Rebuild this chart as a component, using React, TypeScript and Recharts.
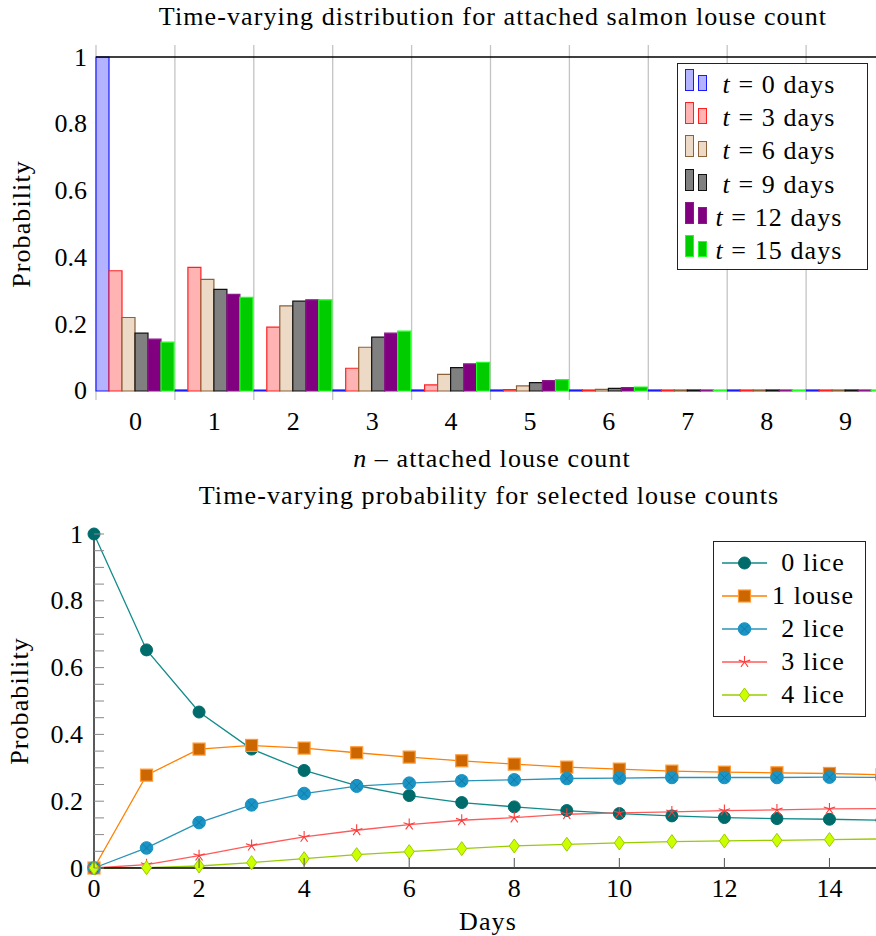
import React from "react";
import { BarChart, Bar, LineChart, Line, XAxis, YAxis, CartesianGrid, ReferenceLine } from "recharts";

const FONT = '"Liberation Serif", "Times New Roman", serif';
const FS = 26;
const LS = 1.1;

// top chart: distribution of attached louse count
const counts = ["0", "1", "2", "3", "4", "5", "6", "7", "8", "9"];
const t0 = [1, 0, 0, 0, 0, 0, 0, 0, 0, 0];
const t3 = [0.36, 0.37, 0.191, 0.068, 0.018, 0.004, 0.001, 0.0002, 0, 0];
const t6 = [0.22, 0.334, 0.255, 0.131, 0.05, 0.015, 0.005, 0.001, 0.0002, 0];
const t9 = [0.173, 0.304, 0.269, 0.161, 0.07, 0.025, 0.008, 0.002, 0.0005, 0.0001];
const t12 = [0.155, 0.289, 0.273, 0.173, 0.081, 0.031, 0.01, 0.003, 0.0008, 0.0002];
const t15 = [0.146, 0.28, 0.273, 0.179, 0.086, 0.034, 0.012, 0.003, 0.001, 0.0003];
const probTicks = [0, 0.2, 0.4, 0.6, 0.8, 1];

// bottom chart: probability over time for 0..4 lice
const days = [0, 1, 2, 3, 4, 5, 6, 7, 8, 9, 10, 11, 12, 13, 14, 15];
const lice0 = [1, 0.653, 0.467, 0.356, 0.292, 0.247, 0.217, 0.196, 0.183, 0.172, 0.163, 0.156, 0.151, 0.148, 0.146, 0.143];
const louse1 = [0, 0.278, 0.356, 0.367, 0.359, 0.345, 0.332, 0.321, 0.311, 0.302, 0.296, 0.29, 0.287, 0.285, 0.283, 0.279];
const lice2 = [0, 0.06, 0.136, 0.189, 0.223, 0.245, 0.254, 0.261, 0.264, 0.268, 0.269, 0.271, 0.271, 0.271, 0.272, 0.271];
const lice3 = [0, 0.01, 0.037, 0.067, 0.093, 0.113, 0.13, 0.143, 0.151, 0.161, 0.165, 0.168, 0.172, 0.174, 0.177, 0.178];
const lice4 = [0, 0.001, 0.006, 0.016, 0.028, 0.04, 0.049, 0.058, 0.066, 0.071, 0.075, 0.079, 0.081, 0.083, 0.085, 0.087];
const dayTicks = [0, 2, 4, 6, 8, 10, 12, 14];
const probMinor = [0, 0.05, 0.1, 0.15, 0.2, 0.25, 0.3, 0.35, 0.4, 0.45, 0.5, 0.55, 0.6, 0.65, 0.7, 0.75, 0.8, 0.85, 0.9, 0.95, 1];

const barData = counts.map((n, i) => ({ n, t0: t0[i], t3: t3[i], t6: t6[i], t9: t9[i], t12: t12[i], t15: t15[i] }));
const lineData = days.map((day, i) => ({ day, l0: lice0[i], l1: louse1[i], l2: lice2[i], l3: lice3[i], l4: lice4[i] }));

const barSeries = [
  { key: "t0", label: "0", fill: "#b3b3ff", stroke: "#1a1aff" },
  { key: "t3", label: "3", fill: "#ffb3b3", stroke: "#ff2020" },
  { key: "t6", label: "6", fill: "#ecd9c6", stroke: "#8c6239" },
  { key: "t9", label: "9", fill: "#808080", stroke: "#111" },
  { key: "t12", label: "12", fill: "#800080", stroke: "#8a1a8a" },
  { key: "t15", label: "15", fill: "#00cc00", stroke: "#22ff22" },
];

type Mark = "circle" | "square" | "otimes" | "star" | "diamond";
const lineSeries: { key: string; label: string; line: string; fill: string; stroke: string; mark: Mark }[] = [
  { key: "l0", label: "0 lice", line: "#138a8a", fill: "#006b6b", stroke: "#006b6b", mark: "circle" },
  { key: "l1", label: "1 louse", line: "#ff8000", fill: "#cc6600", stroke: "#ff9a33", mark: "square" },
  { key: "l2", label: "2 lice", line: "#2b93b8", fill: "#1a94c4", stroke: "#1a94c4", mark: "otimes" },
  { key: "l3", label: "3 lice", line: "#ff5a5a", fill: "#ff3b3b", stroke: "#ff3b3b", mark: "star" },
  { key: "l4", label: "4 lice", line: "#99cc00", fill: "#ccff00", stroke: "#99cc00", mark: "diamond" },
];

function Marker({ cx, cy, s }: { cx: number; cy: number; s: (typeof lineSeries)[number] }) {
  if (s.mark === "circle") return <circle cx={cx} cy={cy} r={6} fill={s.fill} stroke={s.stroke} />;
  if (s.mark === "square")
    return <rect x={cx - 6} y={cy - 6} width={12} height={12} fill={s.fill} stroke={s.stroke} strokeWidth={1.2} />;
  if (s.mark === "otimes")
    return (
      <g>
        <circle cx={cx} cy={cy} r={6.3} fill={s.fill} stroke={s.stroke} />
        <path d={`M${cx - 4} ${cy - 4}L${cx + 4} ${cy + 4}M${cx - 4} ${cy + 4}L${cx + 4} ${cy - 4}`} stroke="#1479a3" strokeWidth={1} />
      </g>
    );
  if (s.mark === "star") {
    let d = "";
    for (let k = 0; k < 5; k++) {
      const a = -Math.PI / 2 + (k * 2 * Math.PI) / 5;
      d += `M${cx} ${cy}L${cx + 6 * Math.cos(a)} ${cy + 6 * Math.sin(a)}`;
    }
    return <path d={d} stroke={s.stroke} strokeWidth={1.1} fill="none" />;
  }
  return (
    <path d={`M${cx} ${cy - 7}L${cx + 5} ${cy}L${cx} ${cy + 7}L${cx - 5} ${cy}Z`} fill={s.fill} stroke={s.stroke} strokeWidth={1} />
  );
}

function Label({ x, y, rotate, children }: { x: number; y: number; rotate?: boolean; children: React.ReactNode }) {
  return (
    <div
      style={{
        position: "absolute",
        left: x,
        top: y,
        transform: `translate(-50%, -50%)${rotate ? " rotate(-90deg)" : ""}`,
        whiteSpace: "nowrap",
        fontFamily: FONT,
        fontSize: FS,
        letterSpacing: LS,
        lineHeight: 1,
        color: "#000",
      }}
    >
      {children}
    </div>
  );
}

const tickText = { fontFamily: FONT, fontSize: FS, fill: "#000" };
const isMajor = (v: number) => Math.abs(v * 5 - Math.round(v * 5)) < 1e-6;

export default function App() {
  return (
    <div style={{ position: "absolute", left: 0, top: 0, width: 876, height: 936, overflow: "hidden", background: "#fff" }}>
      {/* Top: bar chart */}
      <div style={{ position: "absolute", left: 0, top: 0 }}>
        <BarChart width={900} height={470} data={barData} margin={{ top: 45, right: 0, bottom: 0, left: 0 }} barCategoryGap={0} barGap={0}>
          <CartesianGrid
            horizontal={false}
            stroke="#c4c4c4"
            strokeWidth={1.3}
            verticalCoordinatesGenerator={({ offset }: any) =>
              Array.from({ length: counts.length + 1 }, (_, i) => offset.left + (i * offset.width) / counts.length)
            }
          />
          <XAxis
            dataKey="n"
            height={70}
            axisLine={false}
            tickLine={false}
            tickSize={0}
            tickMargin={0}
            interval={0}
            tick={({ x, y, payload }: any) => (
              <text x={x} y={y + 21} textAnchor="middle" dominantBaseline="central" {...tickText}>
                {payload.value}
              </text>
            )}
          />
          <YAxis
            width={96}
            domain={[-0.027, 1.036]}
            ticks={probTicks}
            axisLine={false}
            tickLine={false}
            tickSize={0}
            tickMargin={0}
            tick={({ x, y, payload }: any) => (
              <text x={x - 9} y={y} textAnchor="end" dominantBaseline="central" {...tickText}>
                {payload.value}
              </text>
            )}
          />
          <YAxis
            yAxisId="r"
            orientation="right"
            width={15}
            domain={[-0.027, 1.036]}
            ticks={probTicks}
            axisLine={false}
            tickLine={false}
            tickSize={0}
            tickMargin={0}
            tick={({ x, y }: any) => <line x1={x - 11} x2={x} y1={y} y2={y} stroke="#888" strokeWidth={1} />}
          />
          <ReferenceLine y={1} stroke="#000" strokeWidth={1.3} />
          {barSeries.map((s) => (
            <Bar
              key={s.key}
              dataKey={s.key}
              fill={s.fill}
              stroke={s.stroke}
              strokeWidth={1.2}
              minPointSize={1}
              isAnimationActive={false}
            />
          ))}
        </BarChart>
      </div>

      <Label x={493} y={17}>Time-varying distribution for attached salmon louse count</Label>
      <Label x={22} y={224} rotate>Probability</Label>
      <Label x={492} y={459}>
        <i>n</i> – attached louse count
      </Label>

      <div
        style={{
          position: "absolute",
          left: 677,
          top: 63,
          width: 191,
          height: 207,
          border: "1.3px solid #222",
          boxSizing: "border-box",
          background: "#fff",
        }}
      >
        {barSeries.map((s, i) => (
          <React.Fragment key={s.key}>
            <div
              style={{ position: "absolute", left: 7, top: 5 + i * 33.2, width: 9, height: 22, background: s.fill, border: `1px solid ${s.stroke}`, boxSizing: "border-box" }}
            />
            <div
              style={{ position: "absolute", left: 20, top: 10.5 + i * 33.2, width: 9, height: 16.5, background: s.fill, border: `1px solid ${s.stroke}`, boxSizing: "border-box" }}
            />
            <Label x={101} y={21 + i * 33.2}>
              <i>t</i> = {s.label} days
            </Label>
          </React.Fragment>
        ))}
      </div>

      {/* Bottom: line chart */}
      <div style={{ position: "absolute", left: 0, top: 470 }}>
        <LineChart width={900} height={466} data={lineData} margin={{ top: 64, right: 0, bottom: 0, left: 0 }}>
          <XAxis
            dataKey="day"
            type="number"
            domain={[0, 15]}
            ticks={dayTicks}
            height={68}
            axisLine={{ stroke: "#000", strokeWidth: 1.3 }}
            tickLine={false}
            tickSize={0}
            tickMargin={0}
            tick={({ x, y, payload }: any) => (
              <g>
                <line x1={x} x2={x} y1={y} y2={y - 10} stroke="#555" strokeWidth={1} />
                <text x={x} y={y + 20} textAnchor="middle" dominantBaseline="central" {...tickText}>
                  {payload.value}
                </text>
              </g>
            )}
          />
          <XAxis
            xAxisId="top"
            orientation="top"
            dataKey="day"
            type="number"
            domain={[0, 15]}
            ticks={dayTicks}
            height={0}
            axisLine={{ stroke: "#000", strokeWidth: 1.3 }}
            tickLine={false}
            tickSize={0}
            tickMargin={0}
            tick={({ x, y }: any) => <line x1={x} x2={x} y1={y} y2={y + 11} stroke="#555" strokeWidth={1} />}
          />
          <YAxis
            width={94}
            domain={[0, 1]}
            ticks={probMinor}
            interval={0}
            axisLine={{ stroke: "#000", strokeWidth: 1.3 }}
            tickLine={false}
            tickSize={0}
            tickMargin={0}
            tick={({ x, y, payload }: any) => (
              <g>
                <line x1={x} x2={x + 10} y1={y} y2={y} stroke="#888" strokeWidth={1} />
                {isMajor(payload.value) && (
                  <text x={x - 11} y={y} textAnchor="end" dominantBaseline="central" {...tickText}>
                    {Math.round(payload.value * 10) / 10}
                  </text>
                )}
              </g>
            )}
          />
          <YAxis
            yAxisId="r"
            orientation="right"
            width={18}
            domain={[0, 1]}
            ticks={probMinor}
            interval={0}
            axisLine={{ stroke: "#000", strokeWidth: 1.3 }}
            tickLine={false}
            tickSize={0}
            tickMargin={0}
            tick={({ x, y }: any) => <line x1={x - 10} x2={x} y1={y} y2={y} stroke="#888" strokeWidth={1} />}
          />
          {lineSeries.map((s) => (
            <Line
              key={s.key}
              dataKey={s.key}
              type="linear"
              stroke={s.line}
              strokeWidth={1.3}
              isAnimationActive={false}
              dot={(p: any) => <Marker key={p.index} cx={p.cx} cy={p.cy} s={s} />}
            />
          ))}
        </LineChart>
      </div>

      <Label x={489} y={496}>Time-varying probability for selected louse counts</Label>
      <Label x={20} y={701} rotate>Probability</Label>
      <Label x={488} y={922}>Days</Label>

      <div
        style={{
          position: "absolute",
          left: 713,
          top: 541,
          width: 153,
          height: 176,
          border: "1.3px solid #222",
          boxSizing: "border-box",
          background: "#fff",
        }}
      >
        {lineSeries.map((s, i) => (
          <React.Fragment key={s.key}>
            <svg style={{ position: "absolute", left: 6, top: 8 + i * 33 }} width={48} height={26}>
              <line x1={2} x2={47} y1={13} y2={13} stroke={s.line} strokeWidth={1.3} />
              <Marker cx={24.5} cy={13} s={s} />
            </svg>
            <Label x={99} y={21 + i * 33}>{s.label}</Label>
          </React.Fragment>
        ))}
      </div>
    </div>
  );
}
